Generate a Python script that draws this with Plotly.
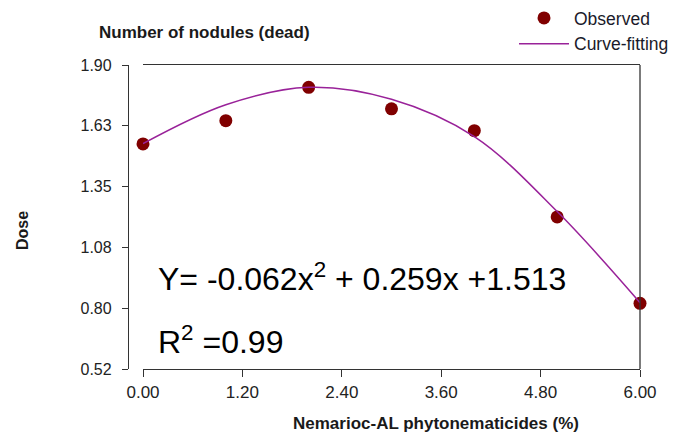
import plotly.graph_objects as go

# ---- data ----
dose = [0, 1, 2, 3, 4, 5, 6]
observed = [1.543, 1.648, 1.799, 1.702, 1.603, 1.213, 0.822]
fit_x = [0, 1, 2, 3, 4, 5, 6]
fit_y = [1.544, 1.720, 1.799, 1.745, 1.576, 1.237, 0.825]
xtick_vals = [0, 1.2, 2.4, 3.6, 4.8, 6.0]
xtick_text = ["0.00", "1.20", "2.40", "3.60", "4.80", "6.00"]
ytick_vals = [0.525, 0.8, 1.075, 1.35, 1.625, 1.9]
ytick_text = ["0.52", "0.80", "1.08", "1.35", "1.63", "1.90"]

W, H = 690, 439
L, R, T, B = 128, 50, 65, 70
PW, PH = W - L - R, H - T - B


def px(x):
    return (x - L) / PW


def py(y):
    return (H - B - y) / PH


FONT = "Liberation Sans, Arial, sans-serif"
AX = "#333333"

fig = go.Figure()
fig.add_trace(go.Scatter(
    x=dose, y=observed, mode="markers", name="Observed",
    marker=dict(color="#800000", size=13), cliponaxis=False))
fig.add_trace(go.Scatter(
    x=fit_x, y=fit_y, mode="lines", name="Curve-fitting",
    line=dict(color="#992299", width=1.5, shape="spline", smoothing=1.0),
    cliponaxis=False))

fig.update_layout(
    width=W, height=H,
    margin=dict(l=L, r=R, t=T, b=B, autoexpand=False),
    paper_bgcolor="white", plot_bgcolor="white",
    font=dict(family=FONT, color="#1a1a1a"),
    showlegend=True,
    legend=dict(xref="container", yref="container",
                x=514 / W, y=1 + 2 / H, xanchor="left", yanchor="top",
                font=dict(size=17.5, color="#1a1a2a"), bgcolor="rgba(0,0,0,0)",
                itemwidth=50, tracegroupgap=0),
    xaxis=dict(domain=[(143 - L) / PW, 1], range=[0, 6],
               tickvals=xtick_vals, ticktext=xtick_text,
               showline=True, linecolor=AX, linewidth=1.3, mirror=True,
               ticks="outside", ticklen=7, tickcolor=AX, tickwidth=1.3,
               showgrid=False, zeroline=False,
               tickfont=dict(size=17, color="#222222")),
    yaxis=dict(range=[0.525, 1.9], anchor="free", position=0,
               tickvals=ytick_vals, ticktext=ytick_text,
               showline=True, linecolor=AX, linewidth=1.3,
               ticks="outside", ticklen=6, tickcolor=AX, tickwidth=1.3,
               ticklabelstandoff=7,
               showgrid=False, zeroline=False,
               tickfont=dict(size=16, color="#222222")),
    shapes=[dict(type="line", xref="x domain", yref="y domain",
                 x0=1, x1=1, y0=0, y1=1, line=dict(color=AX, width=1.3))],
    annotations=[
        dict(text="<b>Number of nodules (dead)</b>", x=px(97), y=py(32),
             xref="paper", yref="paper", xanchor="left", yanchor="middle",
             showarrow=False, font=dict(size=17, color="#1a1a1a")),
        dict(text="<b>Dose</b>", x=px(22), y=py(231), textangle=-90,
             xref="paper", yref="paper", xanchor="center", yanchor="middle",
             showarrow=False, font=dict(size=16, color="#1a1a1a")),
        dict(text="<b>Nemarioc-AL phytonematicides (%)</b>", x=px(436), y=py(423),
             xref="paper", yref="paper", xanchor="center", yanchor="middle",
             showarrow=False, font=dict(size=17, color="#1a1a1a")),
        dict(text="Y= -0.062x<sup>2</sup> + 0.259x +1.513", x=px(156), y=py(277),
             xref="paper", yref="paper", xanchor="left", yanchor="middle",
             showarrow=False, font=dict(size=32, color="black")),
        dict(text="R<sup>2</sup> =0.99", x=px(156), y=py(340),
             xref="paper", yref="paper", xanchor="left", yanchor="middle",
             showarrow=False, font=dict(size=32, color="black")),
    ],
)

fig.write_html("out.html")
